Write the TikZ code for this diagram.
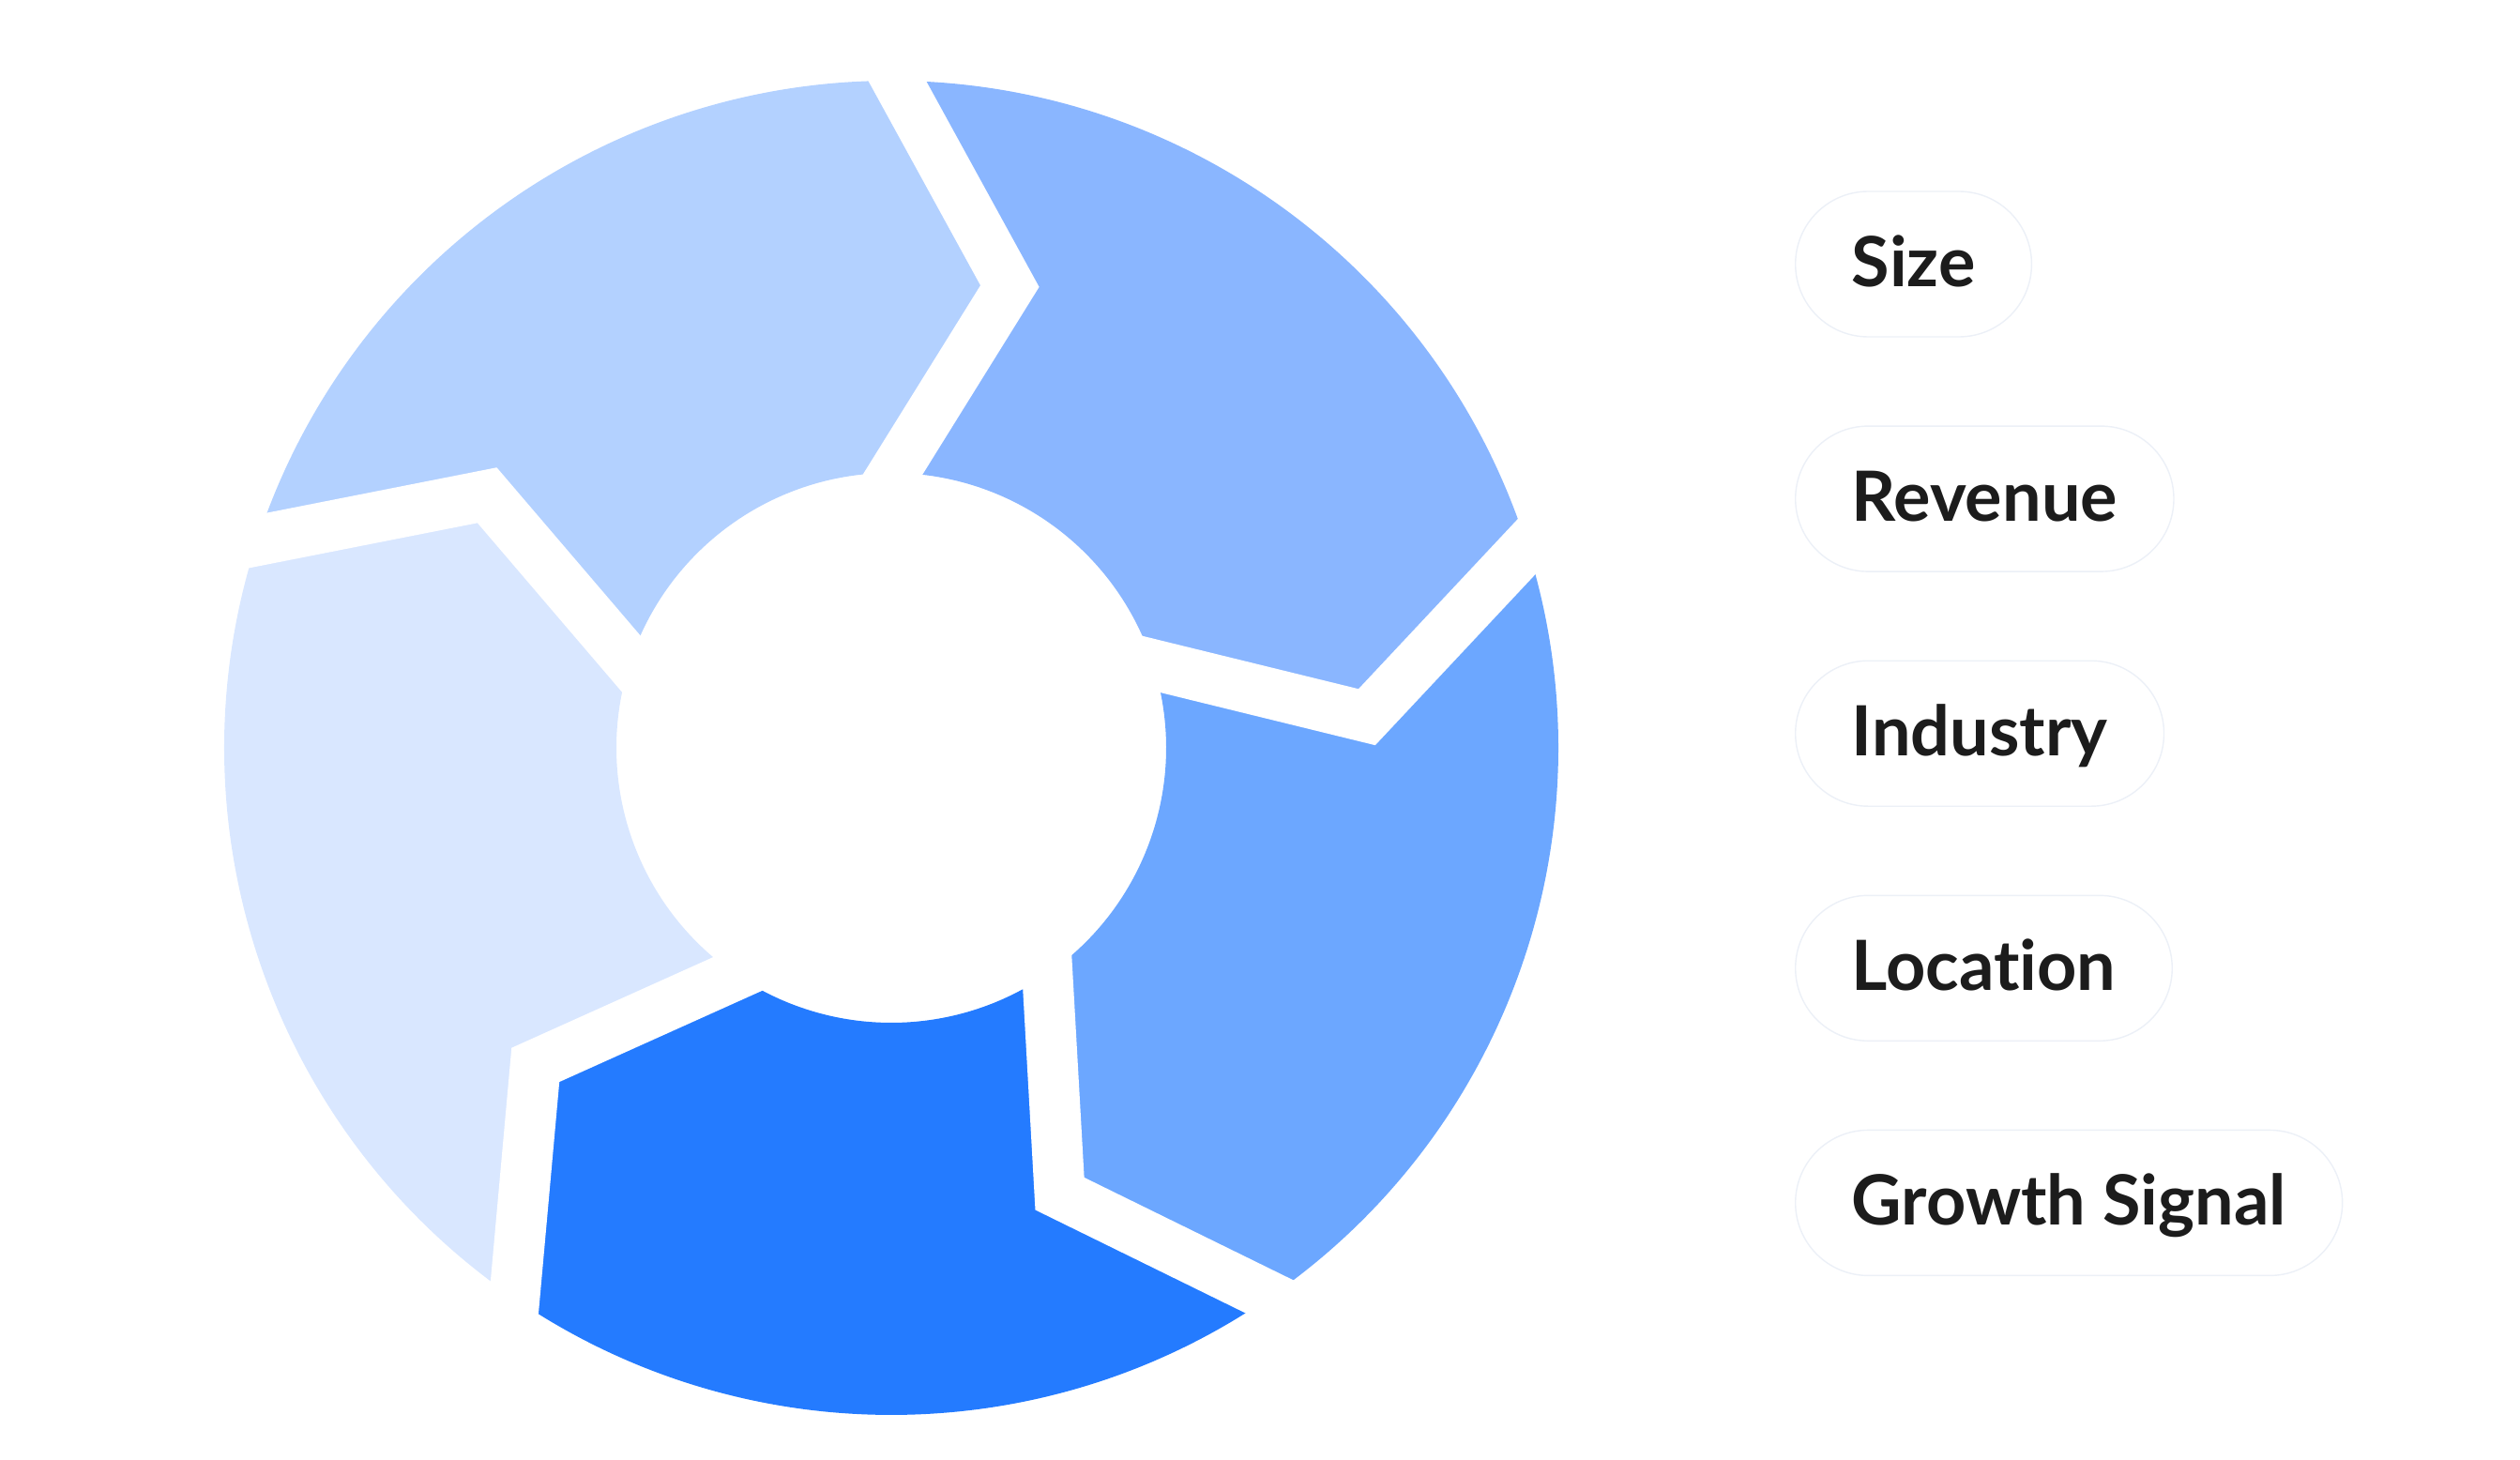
\documentclass[tikz,border=0pt]{standalone}
\usepackage{fontspec}
\setmainfont{Lato}[Ligatures=NoCommon]
\usetikzlibrary{positioning, calc}
\definecolor{segone}{HTML}{8AB6FF}
\definecolor{segtwo}{HTML}{6CA7FF}
\definecolor{segthree}{HTML}{247BFF}
\definecolor{segfour}{HTML}{D9E7FF}
\definecolor{segfive}{HTML}{B3D1FF}
\definecolor{pillline}{HTML}{ECF0F7}
\definecolor{labelink}{HTML}{1C1C1C}

\begin{document}
\begin{tikzpicture}[
  every node/.style={font=\fontsize{21pt}{24pt}\selectfont\bfseries},
  pill/.style={
    draw=pillline, line width=0.4pt, fill=white, rounded corners=0.775cm,
    minimum height=1.55cm, inner xsep=0.6cm, inner ysep=0pt,
    text height=15pt, text depth=1.6pt, text=labelink
  },
  gapline/.style={draw=white, line width=0.54cm, line join=miter, miter limit=10}
]
  \useasboundingbox (0,0) rectangle (26.86,-15.56);
  \def\rOut{7.11}
  \def\rIn{2.93}
  \def\rTip{5.08}

  % Ring of arrow segments
  \coordinate (hub) at (9.50,-7.97);
  \foreach \a/\b/\col in {89.5/17.6/segone, 17.6/-55.4/segtwo, -55.4/-124.4/segthree,
                          -124.4/-198.1/segfour, 161.9/89.5/segfive} {
    \fill[\col] ($(hub)+(\a:\rOut)$) arc[start angle=\a, end angle=\b, radius=\rOut]
      -- ($(hub)+(\b-13.9:\rTip)$) -- ($(hub)+(\b:\rIn)$)
      arc[start angle=\b, end angle=\a, radius=\rIn]
      -- ($(hub)+(\a-13.9:\rTip)$) -- cycle;
  }

  % White chevron gaps
  \foreach \g in {89.5, 17.6, -55.4, -124.4, 161.9} {
    \coordinate (tip) at ($(hub)+(\g-13.9:\rTip)$);
    \coordinate (gout) at ($(hub)+(\g:\rOut)$);
    \coordinate (gin) at ($(hub)+(\g:\rIn)$);
    \draw[gapline] ($(tip)!1.2!(gout)$) -- (tip) -- ($(tip)!1.3!(gin)$);
  }

  % Labels
  \node[pill, anchor=west] (size) at (19.13,-2.815) {Size};
  \node[pill, below=0.937cm of size.south west, anchor=north west] (revenue) {Revenue};
  \node[pill, below=0.937cm of revenue.south west, anchor=north west] (industry) {Industry};
  \node[pill, below=0.937cm of industry.south west, anchor=north west] (location) {Location};
  \node[pill, below=0.937cm of location.south west, anchor=north west] (growth) {Growth Signal};
\end{tikzpicture}
\end{document}
